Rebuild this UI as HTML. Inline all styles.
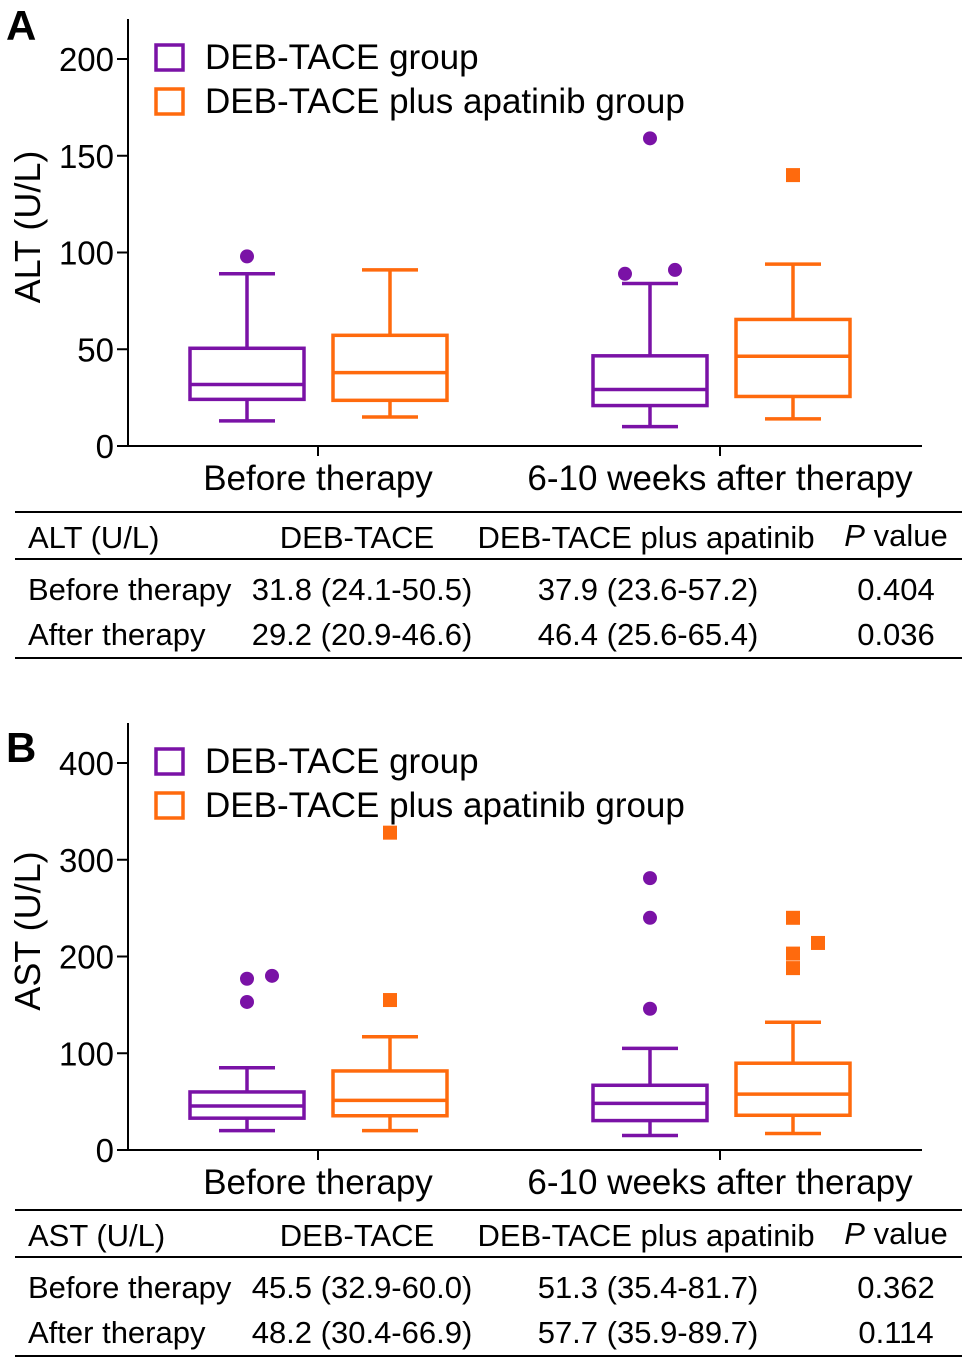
<!DOCTYPE html>
<html><head><meta charset="utf-8"><style>
html,body{margin:0;padding:0;background:#fff}
svg{display:block;font-family:"Liberation Sans",Arial,sans-serif}
</style></head><body>
<svg id="fig" width="968" height="1364" viewBox="0 0 968 1364" xmlns="http://www.w3.org/2000/svg"></svg>
<script>
const categories = ["Before therapy", "6-10 weeks after therapy"];
const groups = ["DEB-TACE group", "DEB-TACE plus apatinib group"];
// [low, q1, median, q3, high] per category for each group
const altPurple = [[13, 24.1, 31.8, 50.5, 89], [10, 20.9, 29.2, 46.6, 84]];
const altOrange = [[15, 23.6, 37.9, 57.2, 91], [14, 25.6, 46.4, 65.4, 94]];
const altPurpleOut = [[[0, 98]], [[0, 159], [-1, 89], [1, 91]]];
const altOrangeOut = [[], [[0, 140]]];
const astPurple = [[20, 32.9, 45.5, 60.0, 85], [15, 30.4, 48.2, 66.9, 105]];
const astOrange = [[20, 35.4, 51.3, 81.7, 117], [17, 35.9, 57.7, 89.7, 132]];
const astPurpleOut = [[[0, 177], [1, 180], [0, 153]], [[0, 281], [0, 240], [0, 146]]];
const astOrangeOut = [[[0, 155], [0, 328]], [[0, 240], [1, 214], [0, 203], [0, 188]]];
const altTicks = [0, 50, 100, 150, 200];
const astTicks = [0, 100, 200, 300, 400];
const altRows = [["Before therapy","31.8 (24.1-50.5)","37.9 (23.6-57.2)","0.404"],["After therapy","29.2 (20.9-46.6)","46.4 (25.6-65.4)","0.036"]];
const astRows = [["Before therapy","45.5 (32.9-60.0)","51.3 (35.4-81.7)","0.362"],["After therapy","48.2 (30.4-66.9)","57.7 (35.9-89.7)","0.114"]];

const NS = "http://www.w3.org/2000/svg";
const svg = document.getElementById("fig");
const PUR = "#7a12a6", ORA = "#ff6a0d";
function mk(tag, attrs, parent, text) {
  const e = document.createElementNS(NS, tag);
  for (const k in attrs) e.setAttribute(k, attrs[k]);
  if (text !== undefined) e.textContent = text;
  (parent || svg).appendChild(e);
  return e;
}
function panel(o) {
  const g = mk("g", {});
  
  
  const y = v => o.y0 - (v / o.max) * (o.y0 - o.yTop);
  const t = mk("text", {x: 6, y: o.letterY, "font-size": 42, "font-weight": "bold"}, g, o.letter);
  
  
  mk("line", {x1: 128, y1: o.yTop - 40, x2: 128, y2: o.y0, stroke: "#000", "stroke-width": 2}, g);
  mk("line", {x1: 128, y1: o.y0, x2: 922, y2: o.y0, stroke: "#000", "stroke-width": 2}, g);
  o.ticks.forEach(v => {
    mk("line", {x1: 117, y1: y(v), x2: 128, y2: y(v), stroke: "#000", "stroke-width": 2}, g);
    const tl = mk("text", {x: 114, y: y(v) + 12, "font-size": 33, "text-anchor": "end"}, g, v);
    
    
  });
  const yt = mk("text", {x: 0, y: 0, "font-size": 36, "text-anchor": "middle", transform: `translate(40,${o.titleY}) rotate(-90)`}, g, o.title);
  
  
  const cx = [318, 720];
  categories.forEach((c, i) => {
    mk("line", {x1: cx[i], y1: o.y0, x2: cx[i], y2: o.y0 + 10, stroke: "#000", "stroke-width": 2}, g);
    const cl = mk("text", {x: cx[i], y: o.y0 + 44, "font-size": 35, "text-anchor": "middle"}, g, c);
    
    
  });
  [PUR, ORA].forEach((col, i) => {
    const ly = o.legY + i * 44;
    const r = mk("rect", {x: 156, y: ly - 12, width: 27, height: 25, fill: "none", stroke: col, "stroke-width": 3.5}, g);
    
    
    const lt = mk("text", {x: 205, y: ly + 12, "font-size": 35}, g, groups[i]);
    
    
  });
  function box(d, col, xc, name) {
    const [lo, q1, md, q3, hi] = d, w = 57;
    const bg = mk("g", {stroke: col, "stroke-width": 3.5, fill: "none"}, g);
    
    
    mk("rect", {x: xc - w, y: y(q3), width: 2 * w, height: y(q1) - y(q3)}, bg);
    mk("line", {x1: xc - w, y1: y(md), x2: xc + w, y2: y(md)}, bg);
    mk("line", {x1: xc, y1: y(q3), x2: xc, y2: y(hi)}, bg);
    mk("line", {x1: xc, y1: y(q1), x2: xc, y2: y(lo)}, bg);
    mk("line", {x1: xc - 28, y1: y(hi), x2: xc + 28, y2: y(hi)}, bg);
    mk("line", {x1: xc - 28, y1: y(lo), x2: xc + 28, y2: y(lo)}, bg);
  }
  const pc = [247, 650], oc = [390, 793];
  [0, 1].forEach(i => {
    box(o.pur[i], PUR, pc[i], "box-deb-tace-" + i);
    box(o.ora[i], ORA, oc[i], "box-apatinib-" + i);
    o.purOut[i].forEach(([dx, v]) => {
      const c = mk("circle", {cx: pc[i] + dx * 25, cy: y(v), r: 7, fill: PUR}, g);
      
      
    });
    o.oraOut[i].forEach(([dx, v]) => {
      const s = mk("rect", {x: oc[i] + dx * 25 - 7, y: y(v) - 7, width: 14, height: 14, fill: ORA}, g);
      
      
    });
  });
  const T = o.tTop;
  const tg = mk("g", {}, g);
  
  
  [T, T + 47, T + 146].forEach(ly => mk("line", {x1: 15, y1: ly, x2: 962, y2: ly, stroke: "#000", "stroke-width": 2}, tg));
  const fs = 31;
  mk("text", {x: 28, y: T + 36, "font-size": fs}, tg, o.title);
  mk("text", {x: 357, y: T + 36, "font-size": fs, "text-anchor": "middle"}, tg, "DEB-TACE");
  mk("text", {x: 646, y: T + 36, "font-size": fs, "text-anchor": "middle"}, tg, "DEB-TACE plus apatinib");
  const pv = mk("text", {x: 896, y: T + 34, "font-size": fs, "text-anchor": "middle"}, tg);
  mk("tspan", {"font-style": "italic"}, pv, "P");
  mk("tspan", {}, pv, " value");
  o.rows.forEach((r, i) => {
    const ry = T + 88 + i * 45;
    mk("text", {x: 28, y: ry, "font-size": fs}, tg, r[0]);
    mk("text", {x: 362, y: ry, "font-size": fs, "text-anchor": "middle"}, tg, r[1]);
    mk("text", {x: 648, y: ry, "font-size": fs, "text-anchor": "middle"}, tg, r[2]);
    mk("text", {x: 896, y: ry, "font-size": fs, "text-anchor": "middle"}, tg, r[3]);
  });
}
panel({name: "panel-a-alt", letter: "A", letterY: 40, y0: 446, yTop: 59, max: 200, ticks: altTicks, title: "ALT (U/L)", titleY: 227, legY: 57,
  pur: altPurple, ora: altOrange, purOut: altPurpleOut, oraOut: altOrangeOut, tTop: 512, rows: altRows});
panel({name: "panel-b-ast", letter: "B", letterY: 762, y0: 1150, yTop: 763, max: 400, ticks: astTicks, title: "AST (U/L)", titleY: 931, legY: 761,
  pur: astPurple, ora: astOrange, purOut: astPurpleOut, oraOut: astOrangeOut, tTop: 1210, rows: astRows});
</script>
</body></html>
